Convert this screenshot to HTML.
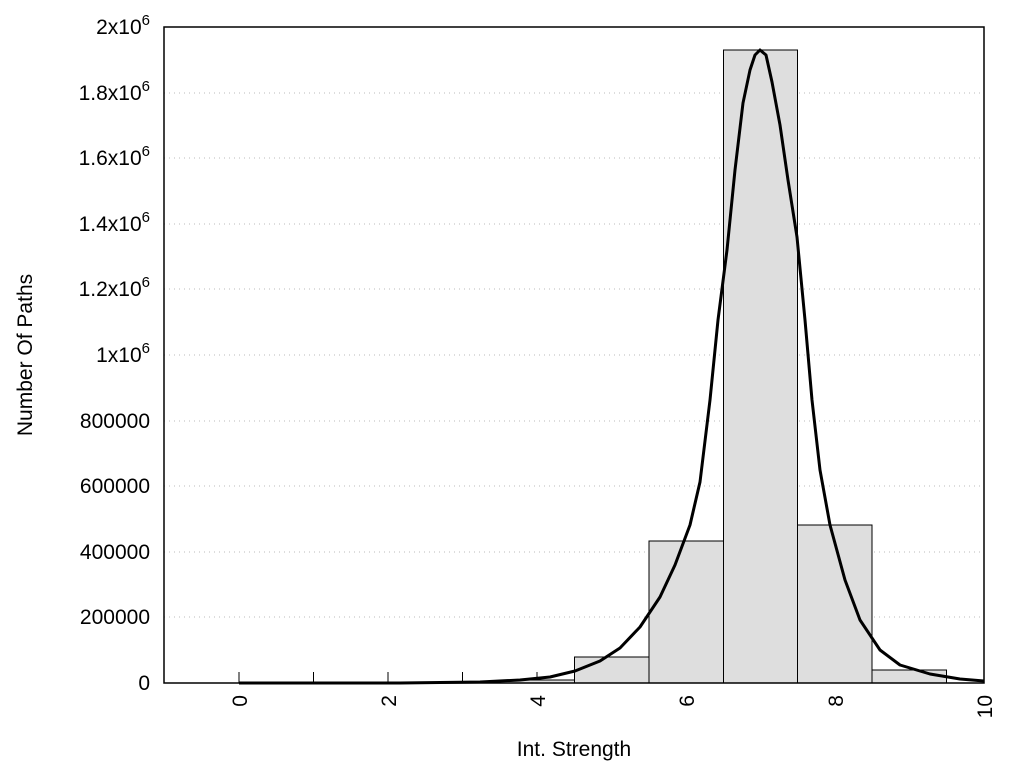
<!DOCTYPE html>
<html><head><style>body{margin:0;background:#fff}</style></head><body>
<svg width="1024" height="768" xmlns="http://www.w3.org/2000/svg" font-family="Liberation Sans, sans-serif" font-size="21">
<rect width="1024" height="768" fill="#fff"/>
<g stroke="#bbb" stroke-dasharray="1,4" stroke-width="1">
<line x1="164" x2="984" y1="93" y2="93"/><line x1="164" x2="984" y1="158" y2="158"/>
<line x1="164" x2="984" y1="224" y2="224"/><line x1="164" x2="984" y1="289" y2="289"/>
<line x1="164" x2="984" y1="355" y2="355"/><line x1="164" x2="984" y1="421" y2="421"/>
<line x1="164" x2="984" y1="486" y2="486"/><line x1="164" x2="984" y1="552" y2="552"/>
<line x1="164" x2="984" y1="617" y2="617"/>
</g>
<g stroke="#000" stroke-width="1">
<line x1="239" x2="239" y1="683" y2="672"/><line x1="313.5" x2="313.5" y1="683" y2="672"/>
<line x1="388" x2="388" y1="683" y2="672"/><line x1="462.5" x2="462.5" y1="683" y2="672"/>
<line x1="537" x2="537" y1="683" y2="672"/><line x1="611.5" x2="611.5" y1="683" y2="672"/>
<line x1="686" x2="686" y1="683" y2="672"/><line x1="760.5" x2="760.5" y1="683" y2="672"/>
<line x1="835" x2="835" y1="683" y2="672"/><line x1="909.5" x2="909.5" y1="683" y2="672"/>
</g>
<g fill="#dedede" stroke="#000" stroke-width="1">
<rect x="239" y="682" width="74.5" height="1"/>
<rect x="462" y="682" width="74.5" height="1"/>
<rect x="500" y="680" width="75" height="3"/>
<rect x="574.5" y="657" width="74.5" height="26"/>
<rect x="649" y="541" width="74.5" height="142"/>
<rect x="723.5" y="50" width="74" height="633"/>
<rect x="797.5" y="525" width="74.5" height="158"/>
<rect x="872" y="670" width="74.5" height="13"/>
</g>
<polyline fill="none" stroke="#000" stroke-width="3" stroke-linejoin="round" points="239,683 400,683 480,682 520,680 550,677 575,671 600,661 620,648 640,627 660,597 675,565 690,525 700,482 710,400 718,320 727,250 735,170 743,103 750,70 755,55 760,50 766,55 772,82 780,125 788,180 797,237 805,320 812,400 820,470 830,525 845,580 860,620 880,650 900,665 930,674 960,679 984,681"/>
<rect x="164" y="27" width="820" height="656" fill="none" stroke="#000" stroke-width="1.5"/>
<g text-anchor="end">
<text x="150" y="690">0</text><text x="150" y="624">200000</text><text x="150" y="559">400000</text>
<text x="150" y="493">600000</text><text x="150" y="428">800000</text>
<text x="150" y="362">1x10<tspan font-size="15" dy="-9">6</tspan></text>
<text x="150" y="296">1.2x10<tspan font-size="15" dy="-9">6</tspan></text>
<text x="150" y="231">1.4x10<tspan font-size="15" dy="-9">6</tspan></text>
<text x="150" y="165">1.6x10<tspan font-size="15" dy="-9">6</tspan></text>
<text x="150" y="100">1.8x10<tspan font-size="15" dy="-9">6</tspan></text>
<text x="150" y="34">2x10<tspan font-size="15" dy="-9">6</tspan></text>
</g>
<g text-anchor="end">
<text transform="translate(247,695) rotate(-90)">0</text>
<text transform="translate(396,695) rotate(-90)">2</text>
<text transform="translate(545,695) rotate(-90)">4</text>
<text transform="translate(694,695) rotate(-90)">6</text>
<text transform="translate(843,695) rotate(-90)">8</text>
<text transform="translate(992,695) rotate(-90)">10</text>
</g>
<text x="574" y="756" text-anchor="middle">Int. Strength</text>
<text transform="translate(32,355) rotate(-90)" text-anchor="middle">Number Of Paths</text>
</svg>
</body></html>
